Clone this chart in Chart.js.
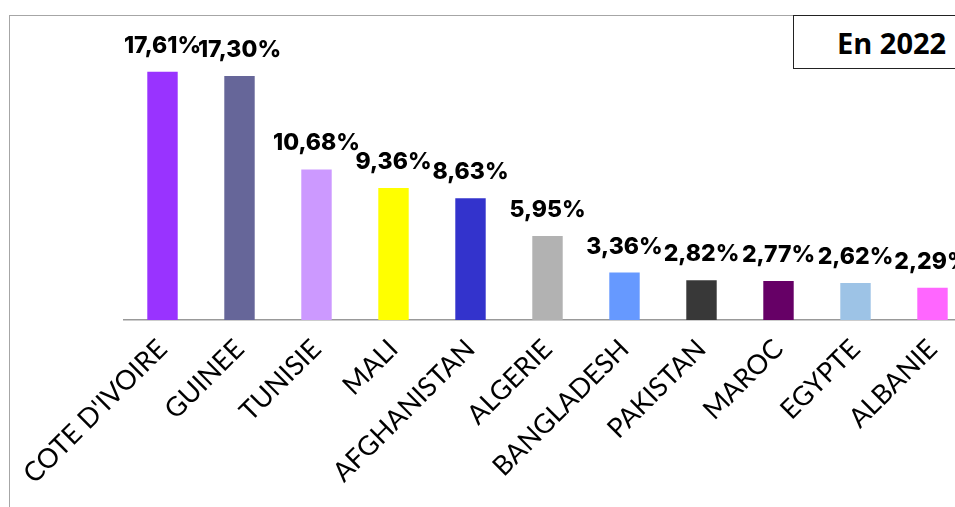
<!DOCTYPE html>
<html>
<head>
<meta charset="utf-8">
<script src="https://cdn.jsdelivr.net/npm/chart.js@4/dist/chart.umd.min.js"></script>
<style>
    html, body { margin: 0; padding: 0; background: #fff; }
    body { width: 955px; height: 507px; overflow: hidden; position: relative; }
    #frame {
        position: absolute; left: 9px; top: 15px; width: 1000px; height: 600px;
        border-top: 1px solid #a6a6a6; border-left: 1px solid #a6a6a6;
    }
    #wrap { position: absolute; left: 0; top: 0; width: 975px; height: 507px; }
    #yearBox {
        position: absolute; left: 793px; top: 15px; width: 200px; height: 54px;
        border: 1px solid #222; background: #fff; box-sizing: border-box;
    }
    #yearBox span {
        position: absolute; left: 43px; top: 10px;
        font-family: "Open Sans", sans-serif; font-weight: 700; font-size: 29px; color: #000;
        line-height: 34px;
    }
</style>
</head>
<body>
<div id="frame"></div>
<div id="wrap"><canvas id="paysChart" width="975" height="507"></canvas></div>
<div id="yearBox"><span>En 2022</span></div>
<script>
const pays = ['COTE D\'IVOIRE', 'GUINEE', 'TUNISIE', 'MALI', 'AFGHANISTAN', 'ALGERIE',
              'BANGLADESH', 'PAKISTAN', 'MAROC', 'EGYPTE', 'ALBANIE'];
const parts = [17.61, 17.30, 10.68, 9.36, 8.63, 5.95, 3.36, 2.82, 2.77, 2.62, 2.29];
const couleurs = ['#9933ff', '#666699', '#cc99ff', '#ffff00', '#3333cc', '#b2b2b2',
                  '#6699ff', '#383838', '#660066', '#9dc3e6', '#ff66ff'];

// étiquettes de valeur au-dessus des barres
const valeurLabels = {
    id: 'valeurLabels',
    afterDatasetsDraw(chart) {
        const ctx = chart.ctx;
        const meta = chart.getDatasetMeta(0);
        ctx.save();
        ctx.font = '800 23px Inter, sans-serif';
        ctx.fillStyle = '#000';
        ctx.textAlign = 'center';
        ctx.textBaseline = 'alphabetic';
        meta.data.forEach((bar, i) => {
            const txt = parts[i].toFixed(2).replace('.', ',') + '%';
            ctx.fillText(txt, bar.x, bar.y - 19);
        });
        ctx.restore();
    }
};

new Chart(document.getElementById('paysChart'), {
    type: 'bar',
    data: {
        labels: pays,
        datasets: [{
            data: parts,
            backgroundColor: couleurs,
            borderWidth: 0,
            barPercentage: 0.395,
            categoryPercentage: 1
        }]
    },
    options: {
        responsive: false,
        animation: false,
        layout: { padding: { left: 124, top: 16, right: 4, bottom: 0 } },
        plugins: { legend: { display: false }, tooltip: { enabled: false } },
        scales: {
            x: {
                grid: { display: false },
                border: { display: true, color: '#999', width: 1.5 },
                ticks: {
                    color: '#000',
                    font: { family: 'Lato', size: 27 },
                    minRotation: 45,
                    maxRotation: 45,
                    autoSkip: false,
                    padding: 5
                },
                afterFit(axis) { axis.height = 187; }
            },
            y: {
                display: false,
                min: 0,
                max: 21.56
            }
        }
    },
    plugins: [valeurLabels]
});
</script>
</body>
</html>
